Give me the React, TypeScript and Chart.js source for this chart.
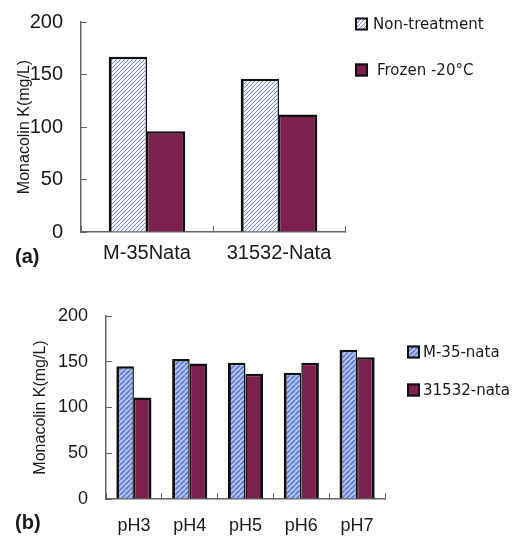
import React, { useEffect, useRef } from 'react';
import { Chart, registerables } from 'chart.js';

Chart.register(...registerables);

// ---- Data ----
const catsA = ['M-35Nata', '31532-Nata'];
const seriesA = ['Non-treatment', 'Frozen -20°C'];
const nonTreatment = [167, 146];
const frozen = [96, 112];

const catsB = ['pH3', 'pH4', 'pH5', 'pH6', 'pH7'];
const seriesB = ['M-35-nata', '31532-nata'];
const m35Nata = [145, 153, 149, 138, 163];
const nata31532 = [111, 148, 137, 149, 155];

const yMin = 0;
const yMax = 200;
const yStep = 50;
const yTitle = 'Monacolin K(mg/L)';
const panelA = '(a)';
const panelB = '(b)';

const MAROON = '#7d1f4f';
const AXIS = '#666666';
const TEXT = '#1a1a1a';
const SANS = '"Liberation Sans", Arial, sans-serif';
const LEGEND_FONT = '15px "DejaVu Sans", sans-serif';

function makeHatch(bg: string, line: string, size: number, lw: number): CanvasPattern | string {
  const c = document.createElement('canvas');
  c.width = size;
  c.height = size;
  const g = c.getContext('2d');
  if (!g) return bg;
  g.fillStyle = bg;
  g.fillRect(0, 0, size, size);
  g.strokeStyle = line;
  g.lineWidth = lw;
  g.beginPath();
  for (let k = -1; k <= 1; k++) {
    g.moveTo(k * size, size);
    g.lineTo(k * size + size, 0);
  }
  g.stroke();
  const p = g.createPattern(c, 'repeat');
  return p || bg;
}

type LegendItem = { label: string; fill: any; textGap: number };

function overlayPlugin(items: LegendItem[], o: { dx: number; dy: number; gap: number; panel: string; px: number; py: number }) {
  return {
    id: 'overlay',
    afterDraw(chart: any) {
      const ctx = chart.ctx as CanvasRenderingContext2D;
      const area = chart.chartArea;
      ctx.save();
      items.forEach((it, i) => {
        const x = area.right + o.dx;
        const y = area.top + o.dy + i * o.gap;
        ctx.fillStyle = it.fill;
        ctx.fillRect(x, y - 6.5, 13, 13);
        ctx.strokeStyle = '#111';
        ctx.lineWidth = 2;
        ctx.strokeRect(x + 1, y - 5.5, 11, 11);
        ctx.fillStyle = TEXT;
        ctx.font = LEGEND_FONT;
        ctx.textAlign = 'left';
        ctx.textBaseline = 'middle';
        ctx.fillText(it.label, x + 13 + it.textGap, y + 1);
      });
      ctx.fillStyle = TEXT;
      ctx.font = 'bold 20px ' + SANS;
      ctx.textAlign = 'left';
      ctx.textBaseline = 'middle';
      ctx.fillText(o.panel, o.px, o.py);
      ctx.restore();
    },
  };
}

function buildOptions(p: {
  padL: number; padR: number; padT: number; yWidth: number; xHeight: number;
  tickSize: number; xPad: number; yPad: number; catPct: number;
}) {
  return {
    responsive: false,
    maintainAspectRatio: false,
    animation: false as const,
    devicePixelRatio: 1,
    layout: { padding: { left: p.padL, right: p.padR, top: p.padT, bottom: 0 } },
    datasets: { bar: { categoryPercentage: p.catPct, barPercentage: 1, inflateAmount: 0 } },
    plugins: { legend: { display: false }, tooltip: { enabled: false }, title: { display: false } },
    scales: {
      x: {
        offset: true,
        grid: { display: true, drawOnChartArea: false, drawTicks: true, tickLength: -6, color: AXIS, offset: true, lineWidth: 1 },
        border: { display: true, color: AXIS, width: 1.5 },
        ticks: { color: TEXT, font: { family: SANS, size: p.tickSize }, padding: p.xPad, maxRotation: 0, autoSkip: false },
        afterFit: (s: any) => { s.height = p.xHeight; },
      },
      y: {
        min: yMin,
        max: yMax,
        grid: { display: true, drawOnChartArea: false, drawTicks: true, tickLength: -6, color: AXIS, lineWidth: 1 },
        border: { display: true, color: AXIS, width: 1.5 },
        ticks: { stepSize: yStep, color: TEXT, font: { family: SANS, size: p.tickSize }, padding: p.yPad },
        title: { display: true, text: yTitle, color: TEXT, font: { family: SANS, size: 16 }, padding: { top: 4, bottom: 4 } },
        afterFit: (s: any) => {
          s.width = p.yWidth;
          s.paddingTop = 0;
          s.paddingBottom = 0;
        },
      },
    },
  };
}

export default function App() {
  const refA = useRef<HTMLCanvasElement>(null);
  const refB = useRef<HTMLCanvasElement>(null);

  useEffect(() => {
    const hatchA = makeHatch('#f3f5ff', '#7d89c8', 4, 1);
    const hatchB = makeHatch('#bfcbf2', '#6580d2', 5, 2);
    const bwLeft = { top: 2.5, left: 3, right: 1.5, bottom: 0 };
    const bwRight = { top: 2.5, left: 1.5, right: 3, bottom: 0 };

    const chartA = new Chart(refA.current as HTMLCanvasElement, {
      type: 'bar',
      data: {
        labels: catsA,
        datasets: [
          { label: seriesA[0], data: nonTreatment, backgroundColor: hatchA as any, borderColor: '#111', borderWidth: bwLeft as any, borderSkipped: 'start' },
          { label: seriesA[1], data: frozen, backgroundColor: MAROON, borderColor: '#111', borderWidth: bwRight as any, borderSkipped: 'start' },
        ],
      },
      options: buildOptions({ padL: 11, padR: 170, padT: 22, yWidth: 70, xHeight: 48, tickSize: 20, xPad: 15, yPad: 24, catPct: 0.58 }) as any,
      plugins: [
        overlayPlugin(
          [
            { label: seriesA[0], fill: hatchA, textGap: 5 },
            { label: seriesA[1], fill: MAROON, textGap: 9 },
          ],
          { dx: 10, dy: 2, gap: 46, panel: panelA, px: 15, py: 257 }
        ) as any,
      ],
    });

    const chartB = new Chart(refB.current as HTMLCanvasElement, {
      type: 'bar',
      data: {
        labels: catsB,
        datasets: [
          { label: seriesB[0], data: m35Nata, backgroundColor: hatchB as any, borderColor: '#111', borderWidth: bwLeft as any, borderSkipped: 'start' },
          { label: seriesB[1], data: nata31532, backgroundColor: MAROON, borderColor: '#111', borderWidth: bwRight as any, borderSkipped: 'start' },
        ],
      },
      options: buildOptions({ padL: 27, padR: 130, padT: 36, yWidth: 79, xHeight: 39, tickSize: 18, xPad: 22, yPad: 24, catPct: 0.63 }) as any,
      plugins: [
        overlayPlugin(
          [
            { label: seriesB[0], fill: hatchB, textGap: 3 },
            { label: seriesB[1], fill: MAROON, textGap: 3 },
          ],
          { dx: 22, dy: 36, gap: 38, panel: panelB, px: 15, py: 243 }
        ) as any,
      ],
    });

    return () => {
      chartA.destroy();
      chartB.destroy();
    };
  }, []);

  return (
    <div style={{ position: 'fixed', left: 0, top: 0, width: 515, height: 538, background: '#fff', overflow: 'hidden' }}>
      <canvas ref={refA} width={515} height={280} style={{ position: 'absolute', left: 0, top: 0, width: 515, height: 280 }} />
      <canvas ref={refB} width={515} height={258} style={{ position: 'absolute', left: 0, top: 280, width: 515, height: 258 }} />
    </div>
  );
}
